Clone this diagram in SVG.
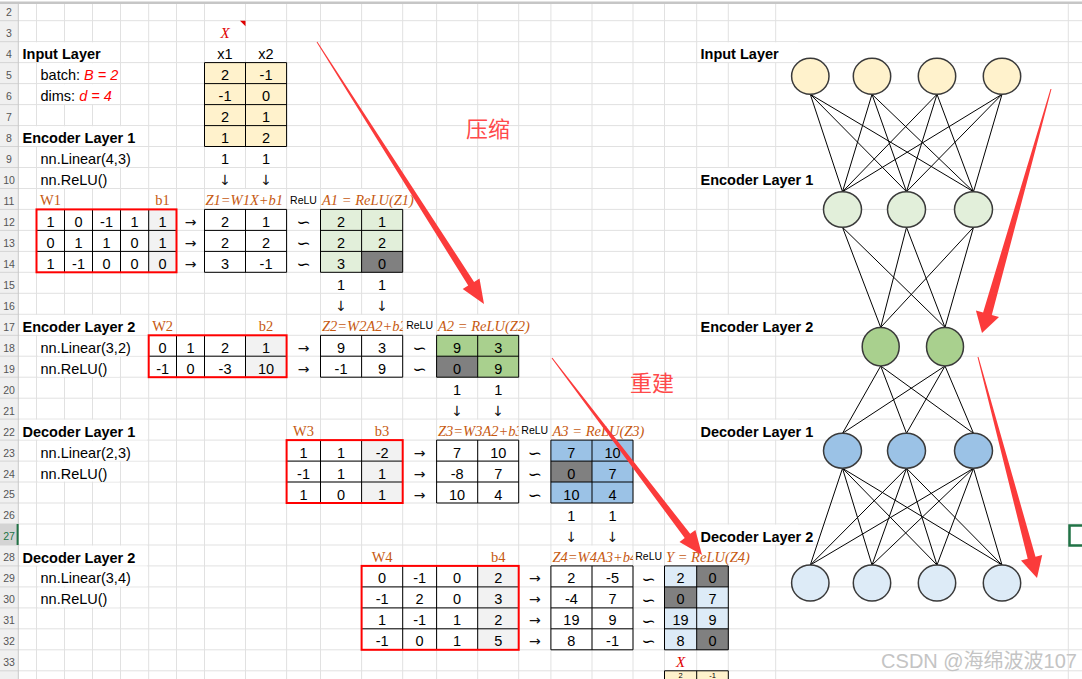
<svg xmlns="http://www.w3.org/2000/svg" width="1082" height="679" viewBox="0 0 1082 679">
<defs>
<style>
text{font-family:"Liberation Sans",Arial,sans-serif;font-size:14.5px;fill:#000}
.c{text-anchor:middle}
.b{font-weight:bold}
.f{font-family:"Liberation Serif","Times New Roman",serif;font-style:italic;fill:#c65911}
.w{font-family:"Liberation Serif","Times New Roman",serif;fill:#c65911;text-anchor:middle}
.rl{font-size:10.5px;text-anchor:middle}
.s{font-family:"DejaVu Sans",sans-serif;font-size:17px;text-anchor:middle}
.a{font-family:"DejaVu Sans",sans-serif;font-size:14px;text-anchor:middle;fill:#111}
.red{fill:#ff0000;font-style:italic}
.xl{font-family:"Liberation Serif","Times New Roman",serif;font-style:italic;fill:#e00000;text-anchor:middle;font-size:15px}
.rn{font-size:10.5px;fill:#555;text-anchor:middle}
.grid{stroke:#e1e1e1;stroke-width:1;fill:none}
.cl{stroke:#000;stroke-width:1;fill:none}
.rb{stroke:#ff0000;stroke-width:2;fill:none}
.nd{stroke:#3a3a3a;stroke-width:1.5}
.cn{stroke:#000;stroke-width:1}
.arw{fill:#fb3b3b}
.cjk{font-family:"Noto Sans CJK SC",sans-serif;font-size:22px;fill:#ff4a4a}
.wh{fill:#fff}
</style>
<clipPath id="cz2"><rect x="320.5" y="314.3" width="82.2" height="21"/></clipPath>
<clipPath id="cz3"><rect x="436.6" y="419.1" width="82.1" height="21"/></clipPath>
<clipPath id="cz4"><rect x="550.9" y="545" width="82.1" height="21"/></clipPath>
</defs>
<rect width="1082" height="679" fill="#fff"/>
<g id="sheet">
<path class="grid" d="M0 20.7H1082M0 41.7H1082M0 62.6H1082M0 83.6H1082M0 104.6H1082M0 125.6H1082M0 146.5H1082M0 167.5H1082M0 188.5H1082M0 209.4H1082M0 230.4H1082M0 251.4H1082M0 272.3H1082M0 293.3H1082M0 314.3H1082M0 335.3H1082M0 356.2H1082M0 377.2H1082M0 398.2H1082M0 419.1H1082M0 440.1H1082M0 461.1H1082M0 482H1082M0 503H1082M0 524H1082M0 545H1082M0 565.9H1082M0 586.9H1082M0 607.9H1082M0 628.8H1082M0 649.8H1082M0 670.8H1082"/>
<path class="grid" d="M36.5 3V679M64.5 3V679M92.5 3V679M120.5 3V679M148.7 3V679M176.5 3V679M204.5 3V679M245.5 3V679M286.6 3V679M320.5 3V679M361.6 3V679M402.7 3V679M436.6 3V679M477.7 3V679M518.7 3V679M550.9 3V679M592 3V679M633 3V679M664.5 3V679M696.7 3V679M728.3 3V679M775.7 3V679M1068.3 3V679"/>
<g class="wh">
<rect x="20" y="42.3" width="99.5" height="19.8"/><rect x="698" y="42.3" width="100" height="19.8"/>
<rect x="38" y="63.2" width="81.5" height="19.8"/>
<rect x="38" y="84.2" width="81.5" height="19.8"/>
<rect x="20" y="126.2" width="127" height="19.8"/>
<rect x="38" y="147.1" width="109" height="19.8"/>
<rect x="38" y="168.1" width="81.5" height="19.8"/><rect x="698" y="168.1" width="100" height="19.8"/>
<rect x="206" y="189.1" width="79" height="19.8"/><rect x="322" y="189.1" width="113.5" height="19.8"/>
<rect x="20" y="314.9" width="127" height="19.8"/><rect x="322" y="314.9" width="80" height="19.8"/><rect x="438" y="314.9" width="112" height="19.8"/><rect x="698" y="314.9" width="100" height="19.8"/>
<rect x="38" y="335.9" width="109" height="19.8"/>
<rect x="38" y="356.8" width="81.5" height="19.8"/>
<rect x="20" y="419.7" width="127" height="19.8"/><rect x="438" y="419.7" width="80" height="19.8"/><rect x="552" y="419.7" width="111.5" height="19.8"/><rect x="698" y="419.7" width="100" height="19.8"/>
<rect x="38" y="440.7" width="109" height="19.8"/>
<rect x="38" y="461.7" width="81.5" height="19.8"/>
<rect x="698" y="524.6" width="100" height="19.8"/>
<rect x="20" y="545.6" width="127" height="19.8"/><rect x="552" y="545.6" width="80" height="19.8"/><rect x="666" y="545.6" width="108.5" height="19.8"/>
<rect x="38" y="566.5" width="109" height="19.8"/>
<rect x="38" y="587.5" width="81.5" height="19.8"/>
</g>
<rect x="0" y="3" width="18.5" height="676" fill="#f0f0f0"/>
<path d="M0 20.7H18.5M0 41.7H18.5M0 62.6H18.5M0 83.6H18.5M0 104.6H18.5M0 125.6H18.5M0 146.5H18.5M0 167.5H18.5M0 188.5H18.5M0 209.4H18.5M0 230.4H18.5M0 251.4H18.5M0 272.3H18.5M0 293.3H18.5M0 314.3H18.5M0 335.3H18.5M0 356.2H18.5M0 377.2H18.5M0 398.2H18.5M0 419.1H18.5M0 440.1H18.5M0 461.1H18.5M0 482H18.5M0 503H18.5M0 524H18.5M0 545H18.5M0 565.9H18.5M0 586.9H18.5M0 607.9H18.5M0 628.8H18.5M0 649.8H18.5M0 670.8H18.5" stroke="#d4d4d4" stroke-width="1"/>
<rect x="0" y="524" width="18.5" height="21" fill="#d4d4d4"/>
<line x1="18.3" y1="3" x2="18.3" y2="679" stroke="#c8c8c8" stroke-width="1"/>
<line x1="17.6" y1="524" x2="17.6" y2="545" stroke="#217346" stroke-width="2"/>
<rect x="0" y="1.5" width="1082" height="2.5" fill="#c6c6c6"/>
<g id="row-numbers">
<text class="rn" x="9" y="16.2">2</text><text class="rn" x="9" y="37">3</text><text class="rn" x="9" y="58">4</text><text class="rn" x="9" y="79">5</text><text class="rn" x="9" y="100">6</text><text class="rn" x="9" y="121">7</text><text class="rn" x="9" y="142">8</text><text class="rn" x="9" y="163">9</text><text class="rn" x="9" y="184">10</text><text class="rn" x="9" y="205">11</text><text class="rn" x="9" y="225.8">12</text><text class="rn" x="9" y="246.8">13</text><text class="rn" x="9" y="267.8">14</text><text class="rn" x="9" y="288.7">15</text><text class="rn" x="9" y="309.7">16</text><text class="rn" x="9" y="330.7">17</text><text class="rn" x="9" y="351.7">18</text><text class="rn" x="9" y="372.6">19</text><text class="rn" x="9" y="393.6">20</text><text class="rn" x="9" y="414.6">21</text><text class="rn" x="9" y="435.5">22</text><text class="rn" x="9" y="456.5">23</text><text class="rn" x="9" y="477.5">24</text><text class="rn" x="9" y="498.4">25</text><text class="rn" x="9" y="519.4">26</text><text class="rn" x="9" y="540.4" style="fill:#217346">27</text><text class="rn" x="9" y="561.4">28</text><text class="rn" x="9" y="582.3">29</text><text class="rn" x="9" y="603.3">30</text><text class="rn" x="9" y="624.3">31</text><text class="rn" x="9" y="645.2">32</text><text class="rn" x="9" y="666.2">33</text>
</g>
<rect x="1069.5" y="525.5" width="30" height="20" fill="none" stroke="#217346" stroke-width="2.5"/>
</g>

<g id="labels-left">
<text class="b" x="22.5" y="59.2">Input Layer</text>
<text x="40.5" y="80.1">batch: <tspan class="red">B = 2</tspan></text>
<text x="40.5" y="101.1">dims: <tspan class="red">d = 4</tspan></text>
<text class="b" x="22.5" y="143.1">Encoder Layer 1</text>
<text x="40.5" y="164">nn.Linear(4,3)</text>
<text x="40.5" y="185">nn.ReLU()</text>
<text class="b" x="22.5" y="331.8">Encoder Layer 2</text>
<text x="40.5" y="352.8">nn.Linear(3,2)</text>
<text x="40.5" y="373.7">nn.ReLU()</text>
<text class="b" x="22.5" y="436.6">Decoder Layer 1</text>
<text x="40.5" y="457.6">nn.Linear(2,3)</text>
<text x="40.5" y="478.6">nn.ReLU()</text>
<text class="b" x="22.5" y="562.5">Decoder Layer 2</text>
<text x="40.5" y="583.4">nn.Linear(3,4)</text>
<text x="40.5" y="604.4">nn.ReLU()</text>
</g>

<g id="X-input">
<text class="xl" x="225" y="37.7">X</text>
<polygon points="240,20.7 245.5,20.7 245.5,26.2" fill="#e00000"/>
<text class="c" x="225" y="59.2">x1</text><text class="c" x="266" y="59.2">x2</text>
<rect x="204.5" y="62.6" width="82.1" height="83.9" fill="#fff2cc"/>
<path class="cl" d="M204.5 62.6h82.1v83.9h-82.1zM245.5 62.6V146.5M204.5 83.6H286.6M204.5 104.6H286.6M204.5 125.6H286.6"/>
<text class="c" x="225" y="80.1">2</text><text class="c" x="266" y="80.1">-1</text>
<text class="c" x="225" y="101.1">-1</text><text class="c" x="266" y="101.1">0</text>
<text class="c" x="225" y="122.1">2</text><text class="c" x="266" y="122.1">1</text>
<text class="c" x="225" y="143.1">1</text><text class="c" x="266" y="143.1">2</text>
<text class="c" x="225" y="164">1</text><text class="c" x="266" y="164">1</text>
<text class="a" x="225" y="185">↓</text><text class="a" x="266" y="185">↓</text>
</g>

<g id="layer1">
<text class="w" x="50.5" y="205">W1</text><text class="w" x="162.6" y="205">b1</text>
<text class="f" x="205.5" y="205">Z1=W1X+b1</text>
<text class="rl" x="303.5" y="203.5">ReLU</text>
<text class="f" x="322" y="205">A1 = ReLU(Z1)</text>
<rect x="148.7" y="209.4" width="27.8" height="62.9" fill="#f2f2f2"/>
<path class="cl" d="M64.5 209.4V272.3M92.5 209.4V272.3M120.5 209.4V272.3M148.7 209.4V272.3M36.5 230.4H176.5M36.5 251.4H176.5"/>
<rect class="rb" x="36.5" y="209.4" width="140" height="62.9"/>
<text class="c" x="50.5" y="226.9">1</text><text class="c" x="78.5" y="226.9">0</text><text class="c" x="106.5" y="226.9">-1</text><text class="c" x="134.6" y="226.9">1</text><text class="c" x="162.6" y="226.9">1</text>
<text class="c" x="50.5" y="247.9">0</text><text class="c" x="78.5" y="247.9">1</text><text class="c" x="106.5" y="247.9">1</text><text class="c" x="134.6" y="247.9">0</text><text class="c" x="162.6" y="247.9">1</text>
<text class="c" x="50.5" y="268.9">1</text><text class="c" x="78.5" y="268.9">-1</text><text class="c" x="106.5" y="268.9">0</text><text class="c" x="134.6" y="268.9">0</text><text class="c" x="162.6" y="268.9">0</text>
<text class="a" x="190.5" y="226.9">→</text><text class="a" x="190.5" y="247.9">→</text><text class="a" x="190.5" y="268.9">→</text>
<path class="cl" d="M204.5 209.4h82.1v62.9h-82.1zM245.5 209.4V272.3M204.5 230.4H286.6M204.5 251.4H286.6"/>
<text class="c" x="225" y="226.9">2</text><text class="c" x="266" y="226.9">1</text>
<text class="c" x="225" y="247.9">2</text><text class="c" x="266" y="247.9">2</text>
<text class="c" x="225" y="268.9">3</text><text class="c" x="266" y="268.9">-1</text>
<text class="s" x="303.5" y="228">∽</text><text class="s" x="303.5" y="249">∽</text><text class="s" x="303.5" y="270">∽</text>
<rect x="320.5" y="209.4" width="82.2" height="62.9" fill="#e2efda"/>
<rect x="361.6" y="251.4" width="41.1" height="20.9" fill="#808080"/>
<path class="cl" d="M320.5 209.4h82.2v62.9h-82.2zM361.6 209.4V272.3M320.5 230.4H402.7M320.5 251.4H402.7"/>
<text class="c" x="341" y="226.9">2</text><text class="c" x="382.1" y="226.9">1</text>
<text class="c" x="341" y="247.9">2</text><text class="c" x="382.1" y="247.9">2</text>
<text class="c" x="341" y="268.9">3</text><text class="c" x="382.1" y="268.9">0</text>
<text class="c" x="341" y="289.8">1</text><text class="c" x="382.1" y="289.8">1</text>
<text class="a" x="341" y="310.8">↓</text><text class="a" x="382.1" y="310.8">↓</text>
</g>

<g id="layer2">
<text class="w" x="162.6" y="330.8">W2</text><text class="w" x="266" y="330.8">b2</text>
<text class="f" x="322" y="330.8" clip-path="url(#cz2)">Z2=W2A2+b2</text>
<text class="rl" x="419.6" y="329.3">ReLU</text>
<text class="f" x="438" y="330.8">A2 = ReLU(Z2)</text>
<rect x="245.5" y="335.3" width="41.1" height="41.9" fill="#f2f2f2"/>
<path class="cl" d="M176.5 335.3V377.2M204.5 335.3V377.2M245.5 335.3V377.2M148.7 356.2H286.6"/>
<rect class="rb" x="148.7" y="335.3" width="137.9" height="41.9"/>
<text class="c" x="162.6" y="352.8">0</text><text class="c" x="190.5" y="352.8">1</text><text class="c" x="225" y="352.8">2</text><text class="c" x="266" y="352.8">1</text>
<text class="c" x="162.6" y="373.7">-1</text><text class="c" x="190.5" y="373.7">0</text><text class="c" x="225" y="373.7">-3</text><text class="c" x="266" y="373.7">10</text>
<text class="a" x="303.5" y="352.8">→</text><text class="a" x="303.5" y="373.7">→</text>
<path class="cl" d="M320.5 335.3h82.2v41.9h-82.2zM361.6 335.3V377.2M320.5 356.2H402.7"/>
<text class="c" x="341" y="352.8">9</text><text class="c" x="382.1" y="352.8">3</text>
<text class="c" x="341" y="373.7">-1</text><text class="c" x="382.1" y="373.7">9</text>
<text class="s" x="419.6" y="353.9">∽</text><text class="s" x="419.6" y="374.8">∽</text>
<rect x="436.6" y="335.3" width="82.1" height="41.9" fill="#a9d08e"/>
<rect x="436.6" y="356.2" width="41.1" height="21" fill="#808080"/>
<path class="cl" d="M436.6 335.3h82.1v41.9h-82.1zM477.7 335.3V377.2M436.6 356.2H518.7"/>
<text class="c" x="457.1" y="352.8">9</text><text class="c" x="498.2" y="352.8">3</text>
<text class="c" x="457.1" y="373.7">0</text><text class="c" x="498.2" y="373.7">9</text>
<text class="c" x="457.1" y="394.7">1</text><text class="c" x="498.2" y="394.7">1</text>
<text class="a" x="457.1" y="415.7">↓</text><text class="a" x="498.2" y="415.7">↓</text>
</g>

<g id="layer3">
<text class="w" x="303.5" y="435.6">W3</text><text class="w" x="382.1" y="435.6">b3</text>
<text class="f" x="438" y="435.6" clip-path="url(#cz3)">Z3=W3A2+b3</text>
<text class="rl" x="534.8" y="434.1">ReLU</text>
<text class="f" x="552.5" y="435.6">A3 = ReLU(Z3)</text>
<rect x="361.6" y="440.1" width="41.1" height="62.9" fill="#f2f2f2"/>
<path class="cl" d="M320.5 440.1V503M361.6 440.1V503M286.6 461.1H402.7M286.6 482H402.7"/>
<rect class="rb" x="286.6" y="440.1" width="116.1" height="62.9"/>
<text class="c" x="303.5" y="457.6">1</text><text class="c" x="341" y="457.6">1</text><text class="c" x="382.1" y="457.6">-2</text>
<text class="c" x="303.5" y="478.6">-1</text><text class="c" x="341" y="478.6">1</text><text class="c" x="382.1" y="478.6">1</text>
<text class="c" x="303.5" y="499.5">1</text><text class="c" x="341" y="499.5">0</text><text class="c" x="382.1" y="499.5">1</text>
<text class="a" x="419.6" y="457.6">→</text><text class="a" x="419.6" y="478.6">→</text><text class="a" x="419.6" y="499.5">→</text>
<path class="cl" d="M436.6 440.1h82.1v62.9h-82.1zM477.7 440.1V503M436.6 461.1H518.7M436.6 482H518.7"/>
<text class="c" x="457.1" y="457.6">7</text><text class="c" x="498.2" y="457.6">10</text>
<text class="c" x="457.1" y="478.6">-8</text><text class="c" x="498.2" y="478.6">7</text>
<text class="c" x="457.1" y="499.5">10</text><text class="c" x="498.2" y="499.5">4</text>
<text class="s" x="534.8" y="458.7">∽</text><text class="s" x="534.8" y="479.7">∽</text><text class="s" x="534.8" y="500.6">∽</text>
<rect x="550.9" y="440.1" width="82.1" height="62.9" fill="#9bc2e6"/>
<rect x="550.9" y="461.1" width="41.1" height="20.9" fill="#808080"/>
<path class="cl" d="M550.9 440.1h82.1v62.9h-82.1zM592 440.1V503M550.9 461.1H633M550.9 482H633"/>
<text class="c" x="571.4" y="457.6">7</text><text class="c" x="612.5" y="457.6">10</text>
<text class="c" x="571.4" y="478.6">0</text><text class="c" x="612.5" y="478.6">7</text>
<text class="c" x="571.4" y="499.5">10</text><text class="c" x="612.5" y="499.5">4</text>
<text class="c" x="571.4" y="520.5">1</text><text class="c" x="612.5" y="520.5">1</text>
<text class="a" x="571.4" y="541.5">↓</text><text class="a" x="612.5" y="541.5">↓</text>
</g>

<g id="layer4">
<text class="w" x="382.1" y="561.5">W4</text><text class="w" x="498.2" y="561.5">b4</text>
<text class="f" x="552.5" y="561.5" clip-path="url(#cz4)">Z4=W4A3+b4</text>
<text class="rl" x="648.7" y="560">ReLU</text>
<text class="f" x="666" y="561.5">Y = ReLU(Z4)</text>
<rect x="477.7" y="565.9" width="41" height="83.9" fill="#f2f2f2"/>
<path class="cl" d="M402.7 565.9V649.8M436.6 565.9V649.8M477.7 565.9V649.8M361.6 586.9H518.7M361.6 607.9H518.7M361.6 628.8H518.7"/>
<rect class="rb" x="361.6" y="565.9" width="157.1" height="83.9"/>
<text class="c" x="382.1" y="583.4">0</text><text class="c" x="419.6" y="583.4">-1</text><text class="c" x="457.1" y="583.4">0</text><text class="c" x="498.2" y="583.4">2</text>
<text class="c" x="382.1" y="604.4">-1</text><text class="c" x="419.6" y="604.4">2</text><text class="c" x="457.1" y="604.4">0</text><text class="c" x="498.2" y="604.4">3</text>
<text class="c" x="382.1" y="625.4">1</text><text class="c" x="419.6" y="625.4">-1</text><text class="c" x="457.1" y="625.4">1</text><text class="c" x="498.2" y="625.4">2</text>
<text class="c" x="382.1" y="646.3">-1</text><text class="c" x="419.6" y="646.3">0</text><text class="c" x="457.1" y="646.3">1</text><text class="c" x="498.2" y="646.3">5</text>
<text class="a" x="534.8" y="583.4">→</text><text class="a" x="534.8" y="604.4">→</text><text class="a" x="534.8" y="625.4">→</text><text class="a" x="534.8" y="646.3">→</text>
<path class="cl" d="M550.9 565.9h82.1v83.9h-82.1zM592 565.9V649.8M550.9 586.9H633M550.9 607.9H633M550.9 628.8H633"/>
<text class="c" x="571.4" y="583.4">2</text><text class="c" x="612.5" y="583.4">-5</text>
<text class="c" x="571.4" y="604.4">-4</text><text class="c" x="612.5" y="604.4">7</text>
<text class="c" x="571.4" y="625.4">19</text><text class="c" x="612.5" y="625.4">9</text>
<text class="c" x="571.4" y="646.3">8</text><text class="c" x="612.5" y="646.3">-1</text>
<text class="s" x="648.7" y="584.5">∽</text><text class="s" x="648.7" y="605.5">∽</text><text class="s" x="648.7" y="626.5">∽</text><text class="s" x="648.7" y="647.4">∽</text>
<rect x="664.5" y="565.9" width="63.8" height="83.9" fill="#ddebf7"/>
<rect x="696.7" y="565.9" width="31.6" height="21" fill="#808080"/>
<rect x="664.5" y="586.9" width="32.2" height="21" fill="#808080"/>
<rect x="696.7" y="628.8" width="31.6" height="21" fill="#808080"/>
<path class="cl" d="M664.5 565.9h63.8v83.9h-63.8zM696.7 565.9V649.8M664.5 586.9H728.3M664.5 607.9H728.3M664.5 628.8H728.3"/>
<text class="c" x="680.6" y="583.4">2</text><text class="c" x="712.5" y="583.4">0</text>
<text class="c" x="680.6" y="604.4">0</text><text class="c" x="712.5" y="604.4">7</text>
<text class="c" x="680.6" y="625.4">19</text><text class="c" x="712.5" y="625.4">9</text>
<text class="c" x="680.6" y="646.3">8</text><text class="c" x="712.5" y="646.3">0</text>
<text class="xl" x="680.6" y="667.3">X</text>
<rect x="664.5" y="670.8" width="63.8" height="21" fill="#fff2cc"/>
<path class="cl" d="M664.5 670.8h63.8v21h-63.8zM696.7 670.8V691.8"/>
<text class="c" x="680.6" y="678.3" style="font-size:7.5px">2</text><text class="c" x="712.5" y="678.3" style="font-size:7.5px">-1</text>
</g>

<g id="labels-right">
<text class="b" x="700.5" y="59.2">Input Layer</text>
<text class="b" x="700.5" y="185">Encoder Layer 1</text>
<text class="b" x="700.5" y="331.8">Encoder Layer 2</text>
<text class="b" x="700.5" y="436.6">Decoder Layer 1</text>
<text class="b" x="700.5" y="541.5">Decoder Layer 2</text>
</g>

<g id="connectors">
<line class="cn" x1="810.3" y1="94.3" x2="842.5" y2="191.7"/><line class="cn" x1="810.3" y1="94.3" x2="906.5" y2="191.7"/><line class="cn" x1="810.3" y1="94.3" x2="973.5" y2="191.7"/>
<line class="cn" x1="872" y1="94.3" x2="842.5" y2="191.7"/><line class="cn" x1="872" y1="94.3" x2="906.5" y2="191.7"/><line class="cn" x1="872" y1="94.3" x2="973.5" y2="191.7"/>
<line class="cn" x1="937" y1="94.3" x2="842.5" y2="191.7"/><line class="cn" x1="937" y1="94.3" x2="906.5" y2="191.7"/><line class="cn" x1="937" y1="94.3" x2="973.5" y2="191.7"/>
<line class="cn" x1="1002" y1="94.3" x2="842.5" y2="191.7"/><line class="cn" x1="1002" y1="94.3" x2="906.5" y2="191.7"/><line class="cn" x1="1002" y1="94.3" x2="973.5" y2="191.7"/>
<line class="cn" x1="842.5" y1="227.3" x2="880.7" y2="327.4"/><line class="cn" x1="842.5" y1="227.3" x2="945" y2="327.4"/>
<line class="cn" x1="906.5" y1="227.3" x2="880.7" y2="327.4"/><line class="cn" x1="906.5" y1="227.3" x2="945" y2="327.4"/>
<line class="cn" x1="973.5" y1="227.3" x2="880.7" y2="327.4"/><line class="cn" x1="973.5" y1="227.3" x2="945" y2="327.4"/>
<line class="cn" x1="880.7" y1="366" x2="842.5" y2="433.3"/><line class="cn" x1="880.7" y1="366" x2="906.5" y2="433.3"/><line class="cn" x1="880.7" y1="366" x2="973.5" y2="433.3"/>
<line class="cn" x1="945" y1="366" x2="842.5" y2="433.3"/><line class="cn" x1="945" y1="366" x2="906.5" y2="433.3"/><line class="cn" x1="945" y1="366" x2="973.5" y2="433.3"/>
<line class="cn" x1="842.5" y1="468.3" x2="810.3" y2="565"/><line class="cn" x1="842.5" y1="468.3" x2="872" y2="565"/><line class="cn" x1="842.5" y1="468.3" x2="937" y2="565"/><line class="cn" x1="842.5" y1="468.3" x2="1002" y2="565"/>
<line class="cn" x1="906.5" y1="468.3" x2="810.3" y2="565"/><line class="cn" x1="906.5" y1="468.3" x2="872" y2="565"/><line class="cn" x1="906.5" y1="468.3" x2="937" y2="565"/><line class="cn" x1="906.5" y1="468.3" x2="1002" y2="565"/>
<line class="cn" x1="973.5" y1="468.3" x2="810.3" y2="565"/><line class="cn" x1="973.5" y1="468.3" x2="872" y2="565"/><line class="cn" x1="973.5" y1="468.3" x2="937" y2="565"/><line class="cn" x1="973.5" y1="468.3" x2="1002" y2="565"/>
</g>

<g id="in1"><ellipse class="nd" cx="810.3" cy="76.3" rx="18.7" ry="18" fill="#fff2cc"/></g>
<g id="in2"><ellipse class="nd" cx="872" cy="76.3" rx="18.7" ry="18" fill="#fff2cc"/></g>
<g id="in3"><ellipse class="nd" cx="937" cy="76.3" rx="18.7" ry="18" fill="#fff2cc"/></g>
<g id="in4"><ellipse class="nd" cx="1002" cy="76.3" rx="18.7" ry="18" fill="#fff2cc"/></g>
<g id="e1a"><ellipse class="nd" cx="842.5" cy="209.5" rx="19" ry="17.8" fill="#e2efda"/></g>
<g id="e1b"><ellipse class="nd" cx="906.5" cy="209.5" rx="19" ry="17.8" fill="#e2efda"/></g>
<g id="e1c"><ellipse class="nd" cx="973.5" cy="209.5" rx="19" ry="17.8" fill="#e2efda"/></g>
<g id="e2a"><ellipse class="nd" cx="880.7" cy="346.7" rx="18.5" ry="19.3" fill="#a9d08e"/></g>
<g id="e2b"><ellipse class="nd" cx="945" cy="346.7" rx="18.5" ry="19.3" fill="#a9d08e"/></g>
<g id="d1a"><ellipse class="nd" cx="842.5" cy="450.8" rx="19" ry="17.5" fill="#9bc2e6"/></g>
<g id="d1b"><ellipse class="nd" cx="906.5" cy="450.8" rx="19" ry="17.5" fill="#9bc2e6"/></g>
<g id="d1c"><ellipse class="nd" cx="973.5" cy="450.8" rx="19" ry="17.5" fill="#9bc2e6"/></g>
<g id="out1"><ellipse class="nd" cx="810.3" cy="583" rx="18.7" ry="18" fill="#ddebf7"/></g>
<g id="out2"><ellipse class="nd" cx="872" cy="583" rx="18.7" ry="18" fill="#ddebf7"/></g>
<g id="out3"><ellipse class="nd" cx="937" cy="583" rx="18.7" ry="18" fill="#ddebf7"/></g>
<g id="out4"><ellipse class="nd" cx="1002" cy="583" rx="18.7" ry="18" fill="#ddebf7"/></g>

<g id="annotations">
<text class="cjk" x="466" y="137">压缩</text>
<text class="cjk" x="630" y="391">重建</text>
<polygon class="arw" points="316.6,42.3 468.2,285.6 462.7,289.1 484,304 479.5,278.4 474.1,281.9 317.4,41.7"/>
<polygon class="arw" points="551.6,358.3 684.7,538 679.5,542 702,555 695.4,529.9 690.2,533.8 552.4,357.7"/>
<polygon class="arw" points="1050.5,88.9 983.1,312.5 975.9,310.5 982,333 999,317 991.8,315 1051.5,89.1"/>
<polygon class="arw" points="977.5,357.1 1027.7,558.7 1021,560.6 1037,578 1042.2,554.9 1035.5,556.7 978.5,356.9"/>
<text x="1077" y="668" style="font-family:'Liberation Sans','Noto Sans CJK SC',sans-serif;font-size:20px;fill:#c4c4c4;text-anchor:end">CSDN @海绵波波107</text>
</g>
</svg>
